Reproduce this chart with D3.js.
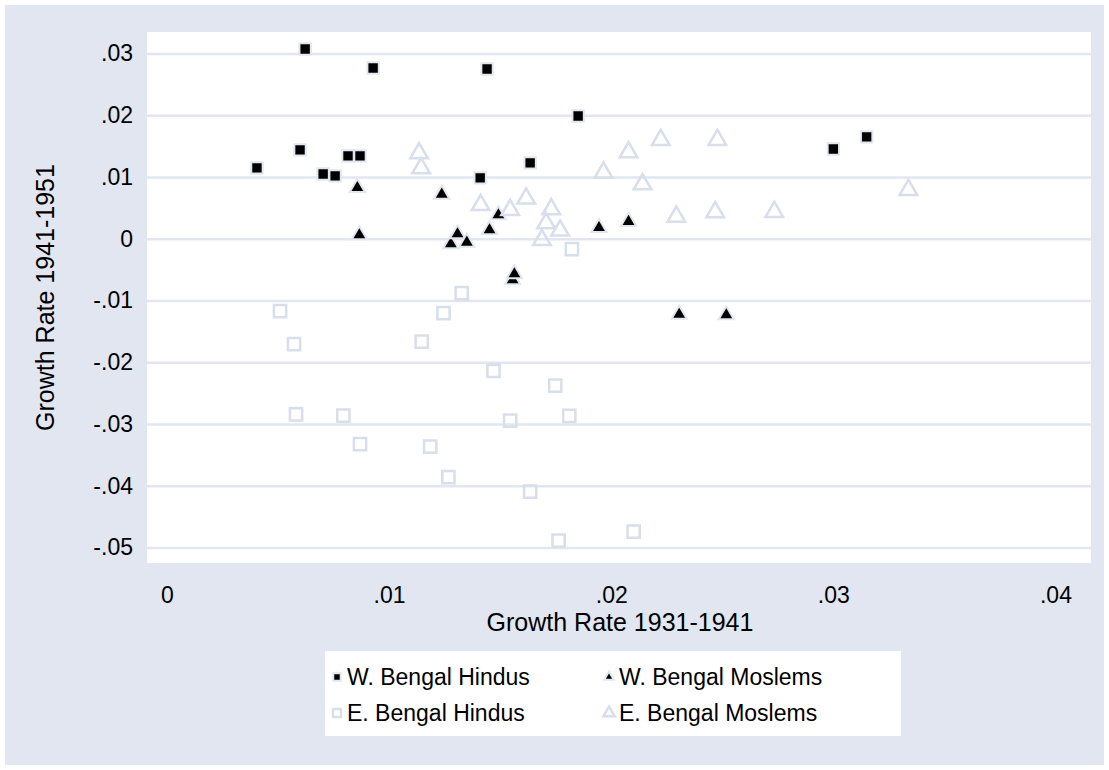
<!DOCTYPE html>
<html>
<head>
<meta charset="utf-8">
<script src="https://cdn.jsdelivr.net/npm/d3@7"></script>
<style>
  body { margin: 0; background: #ffffff; }
  text { font-family: "Liberation Sans", Arial, sans-serif; fill: #000; }
</style>
</head>
<body>
<svg id="chart"></svg>
<script>
// Growth rates: [1931-1941, 1941-1951]
const wBengalHindus = [
    [0.00405, 0.01149], [0.00599, 0.01441], [0.00622, 0.03075], [0.00703, 0.01051],
    [0.00757, 0.01020], [0.00815, 0.01343], [0.00869, 0.01343], [0.00928, 0.02768],
    [0.01441, 0.02751], [0.01410, 0.00988], [0.01635, 0.01230], [0.01851, 0.01990],
    [0.03000, 0.01456], [0.03150, 0.01651]
];
const wBengalMoslems = [
    [0.00857, 0.00829], [0.00866, 0.00063], [0.01237, 0.00722], [0.01278, -0.00083],
    [0.01308, 0.00079], [0.01350, -0.00055], [0.01452, 0.00144], [0.01492, 0.00387],
    [0.01556, -0.00666], [0.01564, -0.00568], [0.01945, 0.00181], [0.02078, 0.00279],
    [0.02306, -0.01224], [0.02518, -0.01232]
];
const eBengalHindus = [
    [0.00509, -0.01172], [0.00572, -0.01707], [0.00581, -0.02841], [0.00794, -0.02863],
    [0.00869, -0.03326], [0.01147, -0.01665], [0.01185, -0.03365], [0.01245, -0.01205],
    [0.01267, -0.03861], [0.01327, -0.00881], [0.01470, -0.02139], [0.01545, -0.02944],
    [0.01635, -0.04094], [0.01748, -0.02377], [0.01811, -0.02868], [0.01763, -0.04887],
    [0.02101, -0.04741], [0.01823, -0.00168]
];
const eBengalMoslems = [
    [0.01135, 0.01386], [0.01144, 0.01143], [0.01412, 0.00549], [0.01545, 0.00468],
    [0.01617, 0.00654], [0.01707, 0.00253], [0.01730, 0.00479], [0.01770, 0.00136],
    [0.01688, -0.00018], [0.01965, 0.01072], [0.02078, 0.01402], [0.02141, 0.00884],
    [0.02223, 0.01602], [0.02478, 0.01602], [0.02293, 0.00360], [0.02468, 0.00432],
    [0.02734, 0.00436], [0.03338, 0.00792]
];

const xTicks = [0, 0.01, 0.02, 0.03, 0.04];
const xTickLabels = ["0", ".01", ".02", ".03", ".04"];
const yTicks = [0.03, 0.02, 0.01, 0, -0.01, -0.02, -0.03, -0.04, -0.05];
const yTickLabels = [".03", ".02", ".01", "0", "-.01", "-.02", "-.03", "-.04", "-.05"];
const seriesNames = ["W. Bengal Hindus", "W. Bengal Moslems", "E. Bengal Hindus", "E. Bengal Moslems"];

// Canvas
const width = 1109, height = 770;
const plot = { left: 147, right: 1091, top: 32, bottom: 563 };
const bg = "#e1e6f0", hollow = "#d8deea";

const svg = d3.select("#chart")
              .attr("width", width)
              .attr("height", height);

// Outer graph region
svg.append("rect")
   .attr("x", 5).attr("y", 5)
   .attr("width", width - 10).attr("height", height - 10)
   .attr("fill", bg);

// Scales
const xScale = d3.scaleLinear()
                 .domain([-0.0009, 0.0416])
                 .range([plot.left, plot.right]);
const yScale = d3.scaleLinear()
                 .domain([-0.0525, 0.0335])
                 .range([plot.bottom, plot.top]);

// Plot region
svg.append("rect")
   .attr("x", plot.left).attr("y", plot.top)
   .attr("width", plot.right - plot.left).attr("height", plot.bottom - plot.top)
   .attr("fill", "#ffffff");

// Horizontal grid lines + y tick labels
const yAxis = svg.append("g")
   .attr("transform", `translate(${plot.left}, 0)`)
   .call(d3.axisLeft(yScale)
           .tickValues(yTicks)
           .tickFormat((d, i) => yTickLabels[i])
           .tickSize(-(plot.right - plot.left))
           .tickPadding(14));
yAxis.select(".domain").remove();
yAxis.selectAll("line").attr("stroke", bg).attr("stroke-width", 2.5);
yAxis.selectAll("text")
     .attr("font-size", 23)
     .attr("font-family", "Liberation Sans, Arial, sans-serif")
     .attr("fill", "#000");

// X tick labels (no tick marks, sit just above the axis title)
const xAxis = svg.append("g")
   .attr("transform", `translate(0, ${plot.bottom})`)
   .call(d3.axisBottom(xScale)
           .tickValues(xTicks)
           .tickFormat((d, i) => xTickLabels[i])
           .tickSize(0)
           .tickPadding(24));
xAxis.select(".domain").remove();
xAxis.selectAll("text")
     .attr("font-size", 23)
     .attr("font-family", "Liberation Sans, Arial, sans-serif")
     .attr("fill", "#000");

// Axis titles
svg.append("text")
   .attr("x", (plot.left + plot.right) / 2 + 1)
   .attr("y", 631)
   .attr("text-anchor", "middle")
   .attr("font-size", 25)
   .text("Growth Rate 1931-1941");

svg.append("text")
   .attr("text-anchor", "middle")
   .attr("transform", `translate(54, ${(plot.top + plot.bottom) / 2}) rotate(-90)`)
   .attr("font-size", 25)
   .text("Growth Rate 1941-1951");

// Marker styles per series
const styles = [
    { type: d3.symbolSquare,   size: 130, fill: "#000", stroke: bg,     sw: 2 },
    { type: d3.symbolTriangle, size: 100, fill: "#000", stroke: bg,     sw: 2 },
    { type: d3.symbolSquare,   size: 150, fill: "none", stroke: hollow, sw: 2.5 },
    { type: d3.symbolTriangle, size: 135, fill: "none", stroke: hollow, sw: 2.5 }
];
const allSeries = [wBengalHindus, wBengalMoslems, eBengalHindus, eBengalMoslems];

allSeries.forEach((data, i) => {
    const s = styles[i];
    svg.append("g")
       .selectAll("path")
       .data(data)
       .join("path")
       .attr("transform", d => `translate(${xScale(d[0])}, ${yScale(d[1])})`)
       .attr("d", d3.symbol().type(s.type).size(s.size))
       .attr("fill", s.fill)
       .attr("stroke", s.stroke)
       .attr("stroke-width", s.sw);
});

// Legend
const legend = svg.append("g");
legend.append("rect")
      .attr("x", 325).attr("y", 651)
      .attr("width", 576).attr("height", 85)
      .attr("fill", "#ffffff");

const legendSizes = [56, 40, 64, 56];
seriesNames.forEach((name, i) => {
    const col = i % 2, row = Math.floor(i / 2);
    const lx = 337 + col * 272, ly = 677 + row * 36;
    const s = styles[i];
    legend.append("path")
          .attr("transform", `translate(${lx}, ${ly})`)
          .attr("d", d3.symbol().type(s.type).size(legendSizes[i]))
          .attr("fill", s.fill)
          .attr("stroke", s.stroke)
          .attr("stroke-width", s.sw);
    legend.append("text")
          .attr("x", lx + 10)
          .attr("y", ly + 8)
          .attr("font-size", 23)
          .text(name);
});
</script>
</body>
</html>
